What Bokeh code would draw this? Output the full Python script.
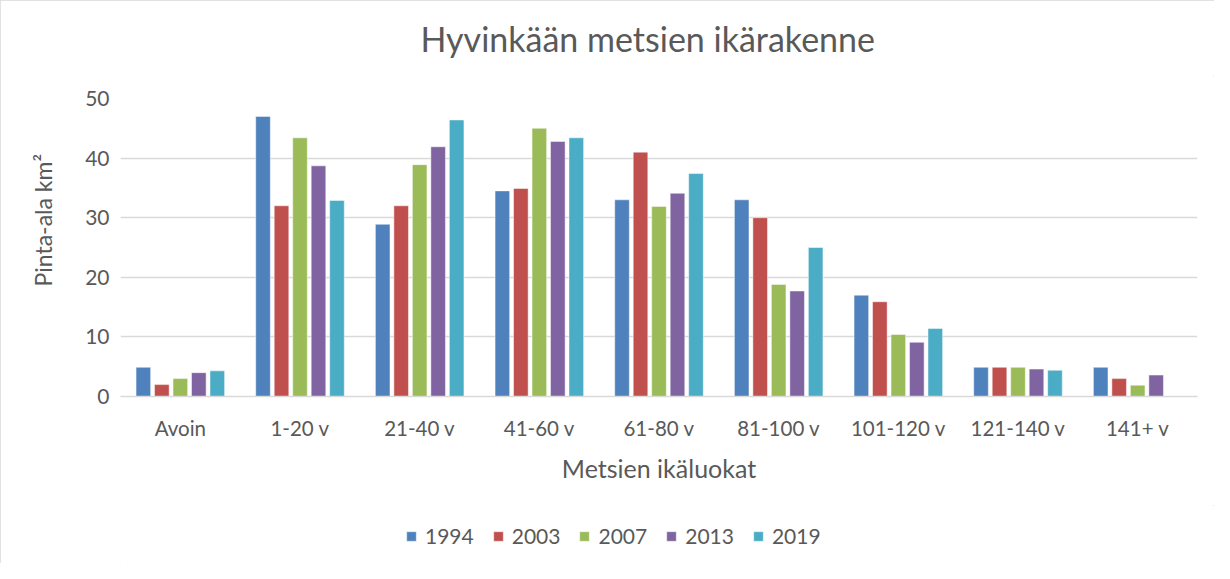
from bokeh.plotting import figure
from bokeh.layouts import column
from bokeh.models import Range1d, FactorRange, Legend, LegendItem, ColumnDataSource, FixedTicker, Title
from bokeh.transform import dodge
from bokeh.embed import file_html
from bokeh.resources import INLINE

categories = ["Avoin", "1-20 v", "21-40 v", "41-60 v", "61-80 v", "81-100 v", "101-120 v", "121-140 v", "141+ v"]
years = ["1994", "2003", "2007", "2013", "2019"]
v1994 = [4.9, 47.0, 28.9, 34.5, 33.0, 33.0, 17.0, 4.9, 4.9]
v2003 = [2.0, 32.0, 32.0, 34.9, 41.0, 30.0, 15.9, 4.9, 3.0]
v2007 = [3.0, 43.4, 38.9, 45.0, 31.9, 18.8, 10.4, 4.9, 1.9]
v2013 = [4.0, 38.7, 41.9, 42.8, 34.1, 17.7, 9.1, 4.6, 3.6]
v2019 = [4.3, 32.9, 46.4, 43.4, 37.4, 25.0, 11.4, 4.4, 0.0]
colors = ["#4F81BD", "#C0504D", "#9BBB59", "#8064A2", "#4BACC6"]
title_text = "Hyvinkään metsien ikärakenne"
ylabel = "Pinta-ala km²"
xlabel = "Metsien ikäluokat"

FONT = "Lato"
TXT = "#595959"
W = 1214

src = ColumnDataSource(dict(cat=categories, y1994=v1994, y2003=v2003, y2007=v2007, y2013=v2013, y2019=v2019))

# --- title strip ---
pt = figure(width=W, height=75, output_backend="svg", toolbar_location=None,
            x_range=Range1d(0, 1), y_range=Range1d(0, 1), min_border=0)
pt.axis.visible = False
pt.grid.visible = False
pt.outline_line_color = None
pt.title.text = title_text
pt.title.align = "left"
pt.title.offset = 300
pt.title.standoff = 33
pt.title.text_font = FONT
pt.title.text_font_size = "34px"
pt.title.text_font_style = "normal"
pt.title.text_color = TXT

# --- main chart ---
p = figure(x_range=FactorRange(*categories), y_range=Range1d(0, 50), title=None,
           width=W, height=430, output_backend="svg", toolbar_location=None,
           min_border_left=120, min_border_right=17, min_border_top=23, min_border_bottom=109)

offsets = [-0.309, -0.1545, 0.0, 0.1545, 0.309]
for yr, off, c in zip(years, offsets, colors):
    p.vbar(x=dodge("cat", off, range=p.x_range), top="y" + yr, width=0.122, source=src,
           fill_color=c, line_color="white", line_width=0.8, line_alpha=0.6)

p.outline_line_color = None
p.xgrid.grid_line_color = None
p.ygrid.grid_line_color = "#d9d9d9"
p.ygrid.grid_line_width = 1.3
p.yaxis.ticker = FixedTicker(ticks=[0, 10, 20, 30, 40, 50])

p.yaxis.axis_line_color = None
p.yaxis.major_tick_line_color = None
p.yaxis.minor_tick_line_color = None
p.yaxis.major_label_text_font = FONT
p.yaxis.major_label_text_font_size = "21px"
p.yaxis.major_label_text_color = TXT
p.yaxis.major_label_standoff = 5

ytitle = Title(text=ylabel, align="left", offset=110, standoff=52,
               text_font=FONT, text_font_size="23px", text_font_style="normal", text_color=TXT)
p.add_layout(ytitle, "left")

p.xaxis.axis_line_color = "#d9d9d9"
p.xaxis.axis_line_width = 1.3
p.xaxis.major_tick_line_color = None
p.xaxis.minor_tick_line_color = None
p.xaxis.major_label_text_font = FONT
p.xaxis.major_label_text_font_size = "20.5px"
p.xaxis.major_label_text_color = TXT
p.xaxis.major_label_standoff = 13
p.xaxis.axis_label = xlabel
p.xaxis.axis_label_text_font = FONT
p.xaxis.axis_label_text_font_size = "25px"
p.xaxis.axis_label_text_font_style = "normal"
p.xaxis.axis_label_text_color = TXT
p.xaxis.axis_label_standoff = 10

# --- legend strip ---
p2 = figure(width=W, height=58, output_backend="svg", toolbar_location=None,
            x_range=FactorRange(*categories), y_range=Range1d(100, 101), min_border=0)
p2.axis.visible = False
p2.grid.visible = False
p2.outline_line_color = None
swatches = [p2.vbar(x="cat", top="y" + yr, width=0.1, source=src,
                    fill_color=c, line_color="white", line_width=0.8, line_alpha=0.6)
            for yr, c in zip(years, colors)]
legend = Legend(items=[LegendItem(label=yr, renderers=[r]) for yr, r in zip(years, swatches)],
                orientation="horizontal", location=(285, 15))
legend.label_text_font = FONT
legend.label_text_font_size = "21px"
legend.label_text_color = TXT
legend.glyph_width = 12
legend.glyph_height = 12
legend.label_standoff = 8
legend.spacing = 18
legend.border_line_color = None
legend.background_fill_alpha = 0
legend.padding = 0
legend.margin = 0
p2.add_layout(legend, "center")

layout = column(pt, p, p2, spacing=0)
layout.styles = {"outline": "1px solid #d9d9d9", "outline-offset": "-1px"}

open("out.html", "w").write(file_html(layout, INLINE))
